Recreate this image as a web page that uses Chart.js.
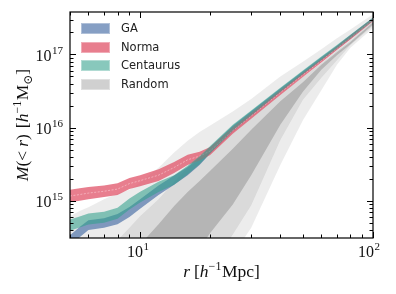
<!DOCTYPE html>
<html>
<head>
<meta charset="UTF-8">
<title>M(&lt;r)</title>
<script src="https://cdn.jsdelivr.net/npm/chart.js"></script>
<style>
  body { margin: 0; background: #fff; }
  #box { width: 396px; height: 294px; }
</style>
</head>
<body>
<div id="box"><canvas id="grafico" width="396" height="294"></canvas></div>
<script>
// raio em h^-1 Mpc
const raios = [5, 5.5, 6, 7, 8, 9, 10, 12, 14, 16, 18, 20, 25, 30, 40, 50, 60, 70, 80, 100];

// log10 M(<r), limites inferior / superior de cada faixa
const logGAInf  = [14.39, 14.50, 14.60, 14.63, 14.68, 14.78, 14.89, 15.08, 15.22, 15.35, 15.49, 15.645, 15.945, 16.155, 16.475, 16.72, 16.91, 17.07, 17.215, 17.46];
const logGASup  = [14.53, 14.64, 14.735, 14.76, 14.82, 14.915, 15.02, 15.21, 15.345, 15.46, 15.595, 15.735, 16.025, 16.225, 16.535, 16.77, 16.96, 17.12, 17.265, 17.50];
const logNormaInf = [14.98, 15.00, 15.02, 15.05, 15.08, 15.16, 15.20, 15.27, 15.38, 15.49, 15.55, 15.625, 15.915, 16.12, 16.445, 16.69, 16.89, 17.06, 17.205, 17.455];
const logNormaSup = [15.15, 15.17, 15.19, 15.21, 15.24, 15.31, 15.35, 15.43, 15.53, 15.63, 15.67, 15.735, 16.005, 16.20, 16.515, 16.75, 16.94, 17.11, 17.255, 17.495];
const logNormaMedia = [15.065, 15.085, 15.105, 15.13, 15.16, 15.235, 15.275, 15.35, 15.455, 15.56, 15.61, 15.68, 15.96, 16.16, 16.48, 16.72, 16.915, 17.085, 17.23, 17.475];
const logCenInf = [14.59, 14.635, 14.675, 14.70, 14.755, 14.88, 14.975, 15.12, 15.22, 15.36, 15.50, 15.65, 15.96, 16.165, 16.485, 16.73, 16.92, 17.08, 17.22, 17.465];
const logCenSup = [14.745, 14.785, 14.825, 14.85, 14.905, 15.03, 15.125, 15.26, 15.35, 15.48, 15.61, 15.75, 16.04, 16.235, 16.545, 16.78, 16.97, 17.13, 17.27, 17.505];

// Random: tres faixas (externa, media, interna)
const logRnd3Inf = [12.0, 12.0, 12.0, 12.0, 12.0, 12.5, 12.8, 13.0, 13.2, 13.4, 13.5, 13.75, 14.26, 14.63, 15.49, 16.10, 16.51, 16.86, 17.09, 17.36];
const logRnd3Sup = [14.79, 14.86, 14.91, 15.02, 15.10, 15.15, 15.25, 15.45, 15.66, 15.82, 15.94, 16.03, 16.22, 16.39, 16.70, 16.90, 17.07, 17.22, 17.34, 17.55];
const logRnd2Inf = [11.5, 11.5, 11.5, 11.6, 11.8, 12.0, 12.2, 12.5, 12.8, 13.5, 13.8, 14.05, 14.54, 14.94, 15.83, 16.38, 16.68, 16.92, 17.13, 17.39];
const logRnd2Sup = [14.2, 14.25, 14.3, 14.4, 14.46, 14.63, 14.79, 15.02, 15.26, 15.45, 15.56, 15.66, 15.95, 16.15, 16.46, 16.69, 16.88, 17.05, 17.19, 17.46];
const logRnd1Inf = [11.0, 11.0, 11.0, 11.2, 11.4, 11.6, 13.0, 13.4, 13.8, 14.1, 14.35, 14.56, 14.95, 15.35, 16.04, 16.49, 16.79, 16.99, 17.14, 17.41];
const logRnd1Sup = [13.8, 13.85, 13.9, 14.0, 14.1, 14.2, 14.40, 14.68, 14.93, 15.12, 15.27, 15.41, 15.71, 15.97, 16.36, 16.62, 16.86, 17.03, 17.17, 17.44];

const legendas = ['GA', 'Norma', 'Centaurus', 'Random'];
const coresLegenda = ['rgba(60,100,160,0.62)', 'rgba(225,90,110,0.78)', 'rgba(50,160,140,0.58)', 'rgba(150,150,150,0.45)'];

function pontos(logs) {
  return raios.map((r, i) => ({ x: r, y: Math.pow(10, logs[i]) }));
}

function faixa(nome, inf, sup, cor, ordem) {
  return [
    { label: nome + ' inf', data: pontos(inf), borderWidth: 0, pointRadius: 0, fill: false, order: ordem },
    { label: nome, data: pontos(sup), borderWidth: 0, pointRadius: 0, backgroundColor: cor, fill: '-1', order: ordem }
  ];
}

const datasets = [].concat(
  faixa('Random 3', logRnd3Inf, logRnd3Sup, 'rgba(150,150,150,0.18)', 10),
  faixa('Random 2', logRnd2Inf, logRnd2Sup, 'rgba(150,150,150,0.22)', 9),
  faixa('Random 1', logRnd1Inf, logRnd1Sup, 'rgba(120,120,120,0.38)', 8),
  faixa('GA', logGAInf, logGASup, coresLegenda[0], 3),
  faixa('Norma', logNormaInf, logNormaSup, coresLegenda[1], 2),
  faixa('Centaurus', logCenInf, logCenSup, coresLegenda[2], 1),
  [{ label: 'Norma media', data: pontos(logNormaMedia), borderColor: 'rgba(255,225,232,0.6)', borderWidth: 0.8,
     borderDash: [2, 1.5], pointRadius: 0, fill: false, order: 1.5 }]
);

const SERIF = '"Liberation Serif", "DejaVu Serif", serif';

function potencia(ctx, exp, x, y, alinha) {
  ctx.font = '16px ' + SERIF;
  const wb = ctx.measureText('10').width;
  ctx.font = '11px ' + SERIF;
  const we = ctx.measureText(exp).width;
  const w = wb + we + 0.5;
  let x0 = x;
  if (alinha === 'right') x0 = x - w;
  if (alinha === 'center') x0 = x - w / 2;
  ctx.textAlign = 'left';
  ctx.textBaseline = 'alphabetic';
  ctx.font = '16px ' + SERIF;
  ctx.fillText('10', x0, y);
  ctx.font = '11px ' + SERIF;
  ctx.fillText(exp, x0 + wb + 0.5, y - 7);
}

// texto matematico simples: pedacos com italico / sobrescrito / subscrito
function mathTexto(ctx, partes, x, y, tam) {
  const fonte = p => (p.i ? 'italic ' : '') + (p.s ? Math.round(tam * 0.7) : tam) + 'px ' + SERIF;
  let total = 0;
  partes.forEach(p => { ctx.font = fonte(p); total += ctx.measureText(p.t).width + (p.g || 0); });
  let cx = x - total / 2;
  ctx.textAlign = 'left';
  ctx.textBaseline = 'alphabetic';
  partes.forEach(p => {
    ctx.font = fonte(p);
    let dy = 0;
    if (p.s === 'sup') dy = -tam * 0.4;
    if (p.s === 'sub') dy = tam * 0.2;
    ctx.fillText(p.t, cx, y + dy);
    cx += ctx.measureText(p.t).width + (p.g || 0);
  });
}

const moldura = {
  id: 'moldura',
  afterDraw(chart) {
    const ctx = chart.ctx;
    const a = chart.chartArea;
    const sx = chart.scales.x, sy = chart.scales.y;
    ctx.save();
    ctx.strokeStyle = '#000';
    ctx.fillStyle = '#000';
    ctx.lineWidth = 1;

    // ticks x
    const xMaior = [10, 100];
    const xMenor = [];
    [1, 10].forEach(d => { for (let k = 2; k <= 9; k++) xMenor.push(k * d); });
    ctx.beginPath();
    xMenor.concat(xMaior).forEach(v => {
      if (v < 5 || v > 100) return;
      const px = Math.round(sx.getPixelForValue(v)) + 0.5;
      const len = xMaior.includes(v) ? 6 : 3.5;
      ctx.moveTo(px, a.bottom); ctx.lineTo(px, a.bottom - len);
      ctx.moveTo(px, a.top); ctx.lineTo(px, a.top + len);
    });
    // ticks y
    const yMaior = [1e15, 1e16, 1e17];
    const yMenor = [];
    [1e14, 1e15, 1e16, 1e17].forEach(d => { for (let k = 2; k <= 9; k++) yMenor.push(k * d); });
    yMenor.concat(yMaior).forEach(v => {
      if (v < sy.min || v > sy.max) return;
      const py = Math.round(sy.getPixelForValue(v)) + 0.5;
      const len = yMaior.includes(v) ? 6 : 3.5;
      ctx.moveTo(a.left, py); ctx.lineTo(a.left + len, py);
      ctx.moveTo(a.right, py); ctx.lineTo(a.right - len, py);
    });
    ctx.stroke();

    // moldura
    ctx.lineWidth = 1.2;
    ctx.strokeRect(a.left, a.top, a.right - a.left, a.bottom - a.top);

    // rotulos
    ctx.fillStyle = '#111';
    potencia(ctx, '1', sx.getPixelForValue(10) - 2, 257, 'center');
    potencia(ctx, '2', sx.getPixelForValue(100) - 4, 257, 'center');
    ['15', '16', '17'].forEach((e, i) => {
      potencia(ctx, e, 63, sy.getPixelForValue(yMaior[i]) + 6.5, 'right');
    });

    // titulos
    mathTexto(ctx, [
      { t: 'r', i: true, g: 4 }, { t: '[' }, { t: 'h', i: true }, { t: '\u22121', s: 'sup', g: 0.5 }, { t: 'Mpc]' }
    ], (a.left + a.right) / 2, 277, 17.5);

    ctx.save();
    ctx.translate(28, (a.top + a.bottom) / 2);
    ctx.rotate(-Math.PI / 2);
    mathTexto(ctx, [
      { t: 'M', i: true }, { t: '(' }, { t: '<', g: 4 }, { t: 'r', i: true }, { t: ')', g: 6 }, { t: '[' },
      { t: 'h', i: true }, { t: '\u22121', s: 'sup', g: 0.5 }, { t: 'M' }, { t: '\u2299', s: 'sub' }, { t: ']' }
    ], 0, 0, 17.5);
    ctx.restore();

    // legenda
    ctx.font = '11.5px "DejaVu Sans"';
    ctx.textAlign = 'left';
    ctx.textBaseline = 'middle';
    const topos = [23, 42, 60, 79];
    legendas.forEach((nome, i) => {
      ctx.fillStyle = coresLegenda[i];
      ctx.fillRect(81, topos[i], 29, 11);
      ctx.strokeStyle = 'rgba(255,255,255,0.35)';
      ctx.lineWidth = 1;
      ctx.strokeRect(81.5, topos[i] + 0.5, 28, 10);
      ctx.fillStyle = '#222';
      ctx.fillText(nome, 121, topos[i] + 6);
    });
    ctx.restore();
  }
};

const ctx = document.getElementById('grafico').getContext('2d');
new Chart(ctx, {
  type: 'line',
  data: { datasets: datasets },
  options: {
    responsive: false,
    animation: false,
    layout: { padding: { left: 70, right: 23, top: 12, bottom: 56 } },
    elements: { line: { tension: 0 } },
    plugins: { legend: { display: false }, tooltip: { enabled: false } },
    scales: {
      x: { type: 'logarithmic', min: 5, max: 100, display: false },
      y: { type: 'logarithmic', min: 3.1e14, max: 3.8e17, display: false }
    }
  },
  plugins: [moldura]
});
</script>
</body>
</html>
